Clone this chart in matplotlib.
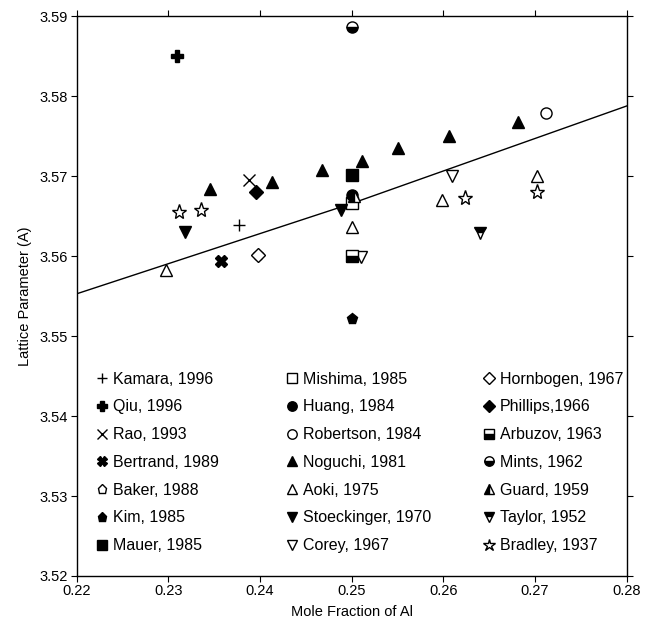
import matplotlib
matplotlib.use("Agg")
import matplotlib.pyplot as plt

plt.rcParams['font.family'] = ['Liberation Sans', 'DejaVu Sans']

# points, one small array per source
kamara_x, kamara_y = [0.2377], [3.5639]
qiu_x, qiu_y = [0.2309], [3.5850]
rao_x, rao_y = [0.2388], [3.5696]
bertrand_x, bertrand_y = [0.2358], [3.5594]
baker_x, baker_y = [0.2398], [3.5601]
kim_x, kim_y = [0.2500], [3.5521]
mauer_x, mauer_y = [0.2500], [3.5702]
mishima_x, mishima_y = [0.2500], [3.5667]
huang_x, huang_y = [0.2500], [3.5677]
robertson_x, robertson_y = [0.2712], [3.5779]
noguchi_x = [0.2345, 0.2413, 0.2468, 0.2511, 0.2551, 0.2606, 0.2682]
noguchi_y = [3.5684, 3.5693, 3.5708, 3.5719, 3.5735, 3.5750, 3.5768]
aoki_x = [0.2297, 0.2500, 0.2599, 0.2702]
aoki_y = [3.5583, 3.5637, 3.5671, 3.5701]
stoeck_x, stoeck_y = [0.2318, 0.2488], [3.5630, 3.5658]
corey_x, corey_y = [0.2610, 0.2510], [3.5701, 3.5599]
hornbogen_x, hornbogen_y = [0.2398], [3.5601]
phillips_x, phillips_y = [0.2396], [3.5681]
arbuzov_x, arbuzov_y = [0.2500], [3.5600]
mints_x, mints_y = [0.2500], [3.5887]
guard_x, guard_y = [0.2503], [3.5676]
taylor_x, taylor_y = [0.2640], [3.5629]
bradley_x = [0.2312, 0.2336, 0.2624, 0.2702]
bradley_y = [3.5655, 3.5658, 3.5673, 3.5681]

fit_x = [0.22, 0.25, 0.28]
fit_y = [3.5553, 3.5666, 3.5788]

series = [
    ("Kamara, 1996", "+", "full", kamara_x, kamara_y),
    ("Qiu, 1996", "P", "full", qiu_x, qiu_y),
    ("Rao, 1993", "x", "full", rao_x, rao_y),
    ("Bertrand, 1989", "X", "full", bertrand_x, bertrand_y),
    ("Baker, 1988", "p", "none", baker_x, baker_y),
    ("Kim, 1985", "p", "full", kim_x, kim_y),
    ("Mauer, 1985", "s", "full", mauer_x, mauer_y),
    ("Mishima, 1985", "s", "none", mishima_x, mishima_y),
    ("Huang, 1984", "o", "full", huang_x, huang_y),
    ("Robertson, 1984", "o", "none", robertson_x, robertson_y),
    ("Noguchi, 1981", "^", "full", noguchi_x, noguchi_y),
    ("Aoki, 1975", "^", "none", aoki_x, aoki_y),
    ("Stoeckinger, 1970", "v", "full", stoeck_x, stoeck_y),
    ("Corey, 1967", "v", "none", corey_x, corey_y),
    ("Hornbogen, 1967", "D", "none", hornbogen_x, hornbogen_y),
    ("Phillips,1966", "D", "full", phillips_x, phillips_y),
    ("Arbuzov, 1963", "s", "bottom", arbuzov_x, arbuzov_y),
    ("Mints, 1962", "o", "bottom", mints_x, mints_y),
    ("Guard, 1959", "^", "left", guard_x, guard_y),
    ("Taylor, 1952", "v", "top", taylor_x, taylor_y),
    ("Bradley, 1937", "*", "none", bradley_x, bradley_y),
]

fig = plt.figure(figsize=(6.53, 6.22), dpi=100)
ax = fig.add_axes([0.1173, 0.074, 0.8423, 0.8995])

ax.plot(fit_x, fit_y, color="black", lw=1.0, zorder=1)

handles = []
for label, m, fs, xs, ys in series:
    size = 8
    if m == "D":
        size = 7
    if m == "*":
        size = 11
    if m in ("+", "x"):
        size = 9
    if fs == "none":
        h, = ax.plot(xs, ys, ls="none", marker=m, ms=size, mfc="white", mec="black",
                     mew=1.0, label=label, zorder=3)
    elif fs == "full":
        h, = ax.plot(xs, ys, ls="none", marker=m, ms=size, mfc="black", mec="black",
                     mew=1.0, label=label, zorder=3)
    else:
        h, = ax.plot(xs, ys, ls="none", marker=m, ms=size, fillstyle=fs, mfc="black",
                     mfcalt="white", mec="black", mew=1.0, label=label, zorder=3)
    handles.append(h)

ax.set_xlim(0.22, 0.28)
ax.set_ylim(3.52, 3.59)
ax.set_xticks([0.22, 0.23, 0.24, 0.25, 0.26, 0.27, 0.28])
ax.set_yticks([3.52, 3.53, 3.54, 3.55, 3.56, 3.57, 3.58, 3.59])
ax.set_xticklabels(["0.22", "0.23", "0.24", "0.25", "0.26", "0.27", "0.28"])
ax.set_yticklabels(["3.52", "3.53", "3.54", "3.55", "3.56", "3.57", "3.58", "3.59"])
ax.tick_params(direction="out", length=4, width=0.8, labelsize=10.5, pad=2,
               top=True, right=True, labeltop=False, labelright=False)
for sp in ax.spines.values():
    sp.set_linewidth(1.0)

ax.set_xlabel("Mole Fraction of Al", fontsize=10.5, labelpad=5)
ax.set_ylabel("Lattice Parameter (A)", fontsize=10.5, labelpad=6)

# three legend columns placed one by one
col_left = [0.0345, 0.380, 0.738]
for i in range(3):
    leg = ax.legend(handles=handles[i * 7:(i + 1) * 7], loc="lower left",
                    bbox_to_anchor=(col_left[i], 0.0406), frameon=False,
                    fontsize=11.5, handlelength=0.8, handletextpad=0.3,
                    labelspacing=0.80, borderpad=0.0, borderaxespad=0.0,
                    markerscale=0.85)
    if i < 2:
        ax.add_artist(leg)

fig.savefig("out.png", dpi=100)
